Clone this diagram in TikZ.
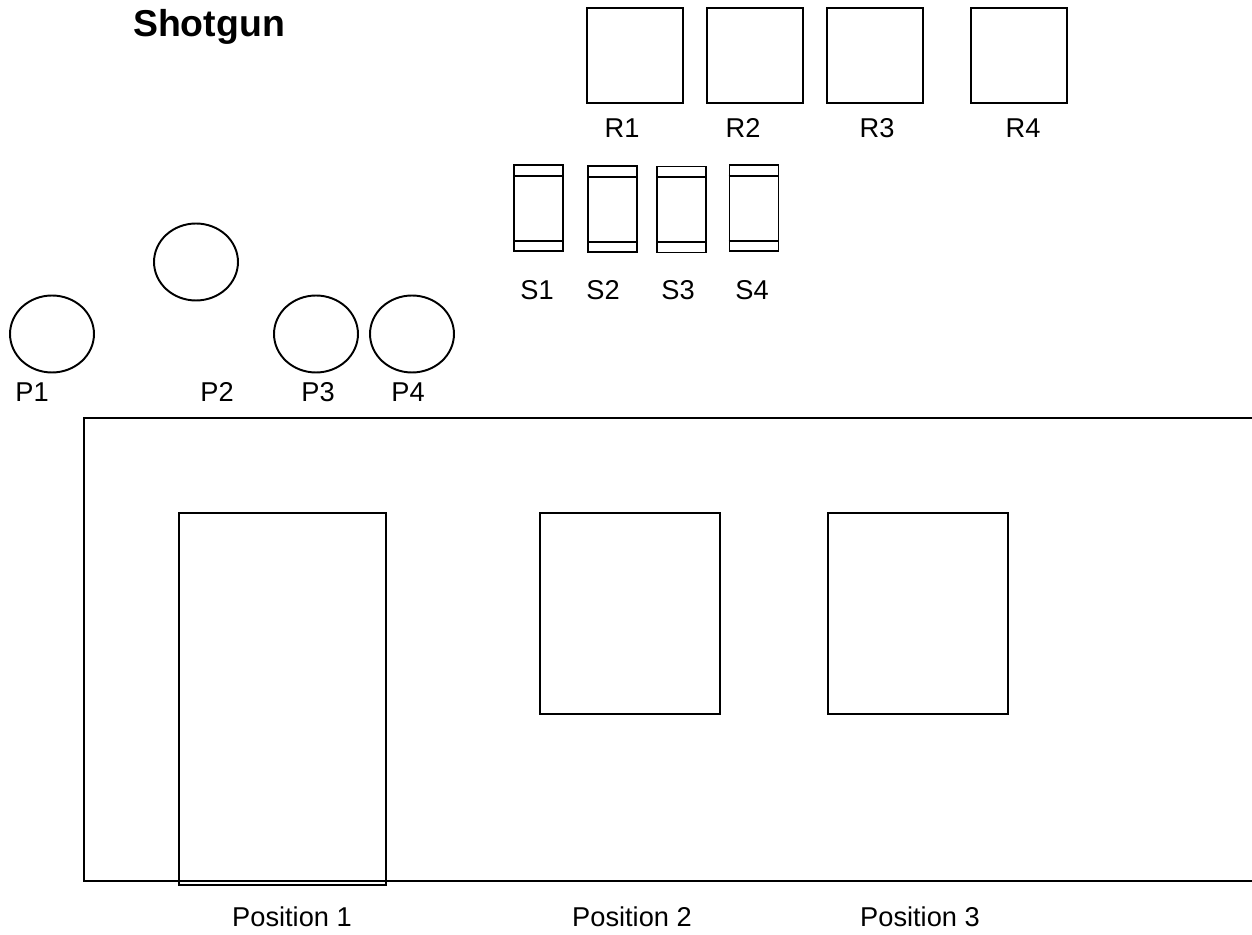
\documentclass[tikz,border=0pt]{standalone}
\usepackage{fontspec}
\setmainfont{Liberation Sans}
\usetikzlibrary{shapes.geometric}

\tikzstyle{every picture}=[line width=1.1pt]
\tikzstyle{label}=[font=\fontsize{15.5}{18}\selectfont, inner sep=0pt]
\tikzstyle{rbox}=[draw, rectangle, inner sep=0pt, minimum width=1.92cm, minimum height=1.9cm]
\tikzstyle{sbox}=[draw, rectangle, inner sep=0pt, minimum width=0.98cm, minimum height=1.72cm]
\tikzstyle{pcircle}=[draw, ellipse, inner sep=0pt, minimum width=1.68cm, minimum height=1.54cm]
\tikzstyle{posbox}=[draw, rectangle, inner sep=0pt, minimum width=3.6cm, minimum height=4.02cm]

\begin{document}
\begin{tikzpicture}[x=0.02cm, y=-0.02cm]
  \useasboundingbox (0,0) rectangle (1252,935);

  \node[font=\fontsize{21.3}{25}\selectfont\bfseries, inner sep=0pt, anchor=base] (title) at (209,37) {Shotgun};

  % R row
  \node[rbox] (r1) at (635,55.5) {};
  \node[rbox] (r2) at (755,55.5) {};
  \node[rbox] (r3) at (875,55.5) {};
  \node[rbox] (r4) at (1019,55.5) {};
  \node[label] (r1l) at (622,128) {R1};
  \node[label] (r2l) at (743,128) {R2};
  \node[label] (r3l) at (877,128) {R3};
  \node[label] (r4l) at (1023,128) {R4};

  % S row
  \node[sbox] (s1) at (538.5,208) {};
  \node[sbox] (s2) at (612.5,209) {};
  \node[sbox] (s3) at (681.5,209.5) {};
  \node[sbox] (s4) at (754,208) {};
  \foreach \s in {s1,s2,s3,s4} {
    \draw ([yshift=-0.23cm]\s.north west) -- ([yshift=-0.23cm]\s.north east);
    \draw ([yshift=0.22cm]\s.south west) -- ([yshift=0.22cm]\s.south east);
  }
  \node[label] (s1l) at (537,290) {S1};
  \node[label] (s2l) at (603,290) {S2};
  \node[label] (s3l) at (678,290) {S3};
  \node[label] (s4l) at (752,290) {S4};

  % P circles
  \node[pcircle] (p1) at (52,334) {};
  \node[pcircle] (p2) at (196,262) {};
  \node[pcircle] (p3) at (316,334) {};
  \node[pcircle] (p4) at (412,334) {};
  \node[label] (p1l) at (32,392) {P1};
  \node[label] (p2l) at (217,392) {P2};
  \node[label] (p3l) at (318,392) {P3};
  \node[label] (p4l) at (408,392) {P4};

  % open frame
  \draw (1252,418) -- (84,418) -- (84,881) -- (1252,881);

  \node[posbox, minimum width=4.14cm, minimum height=7.44cm] (pos1) at (282.5,699) {};
  \node[posbox] (pos2) at (630,613.5) {};
  \node[posbox] (pos3) at (918,613.5) {};
  \node[label] (pos1l) at (292,917) {Position 1};
  \node[label] (pos2l) at (632,917) {Position 2};
  \node[label] (pos3l) at (920,917) {Position 3};
\end{tikzpicture}
\end{document}
